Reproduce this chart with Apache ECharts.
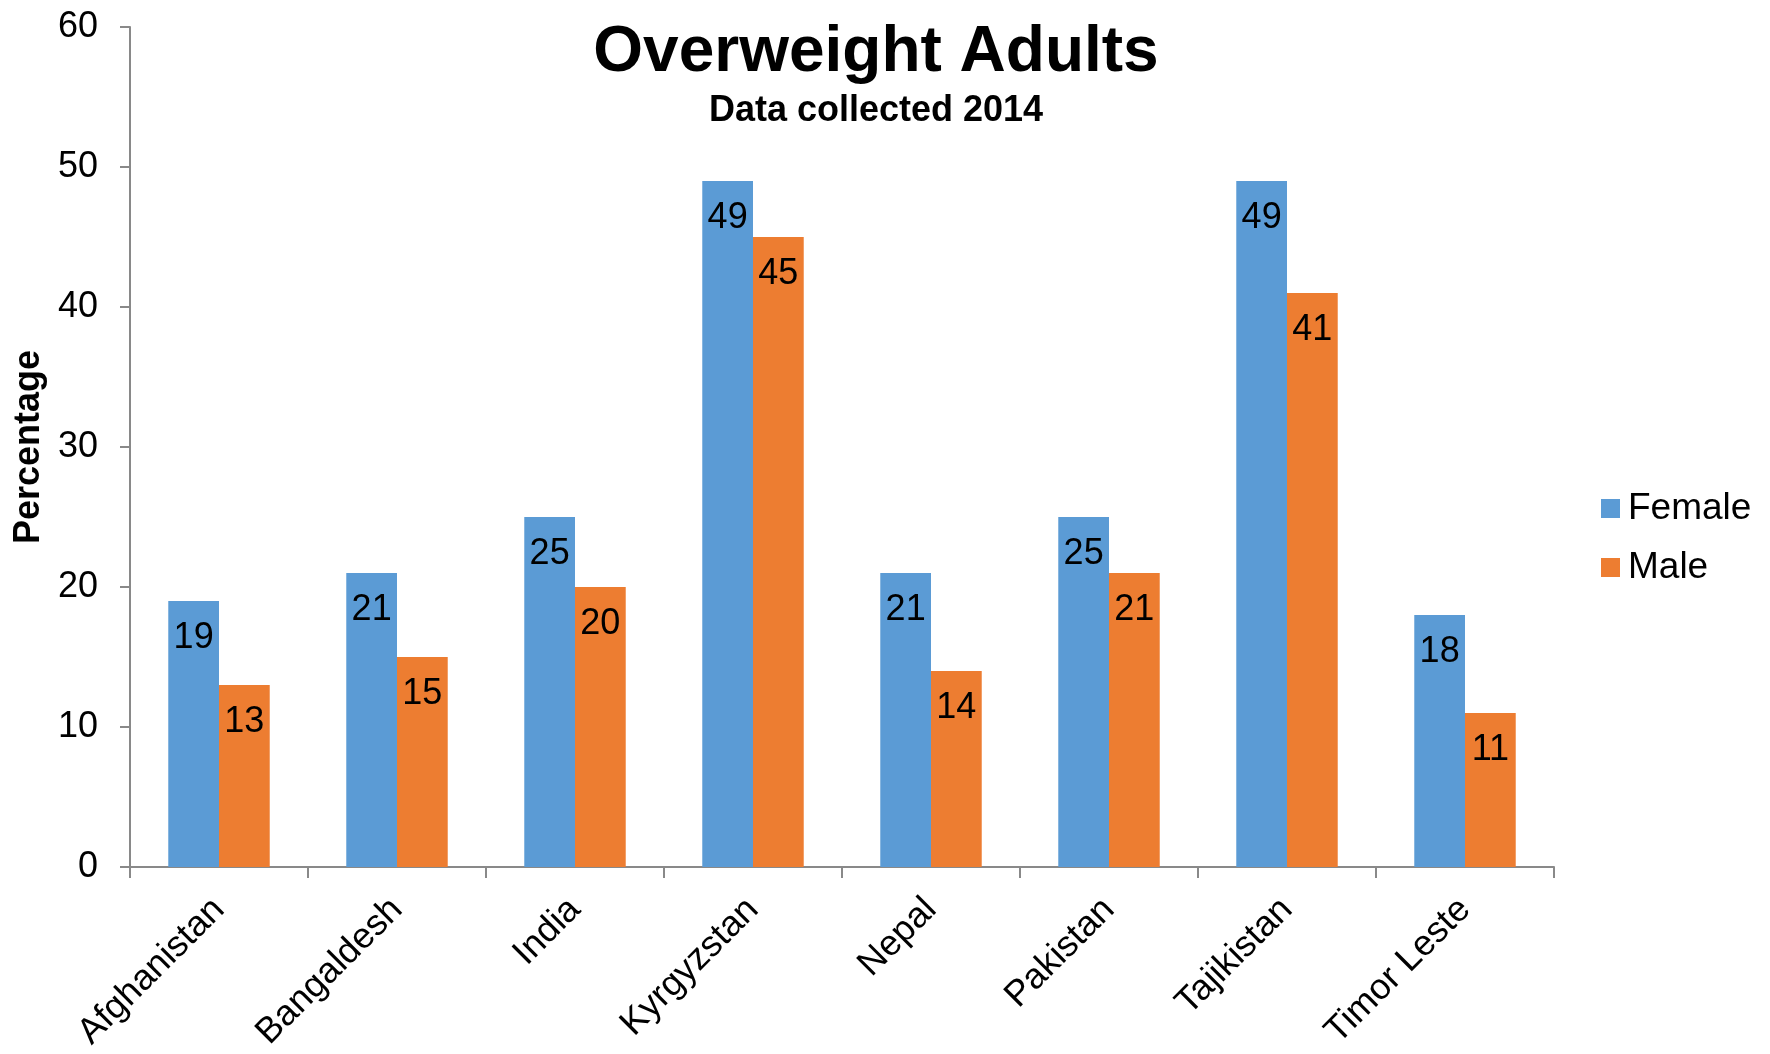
<!DOCTYPE html>
<html>
<head>
<meta charset="utf-8">
<script src="https://cdn.jsdelivr.net/npm/echarts@6/dist/echarts.min.js"></script>
<style>
html,body{margin:0;padding:0;background:#fff;}
#chart{width:1770px;height:1054px;}
</style>
</head>
<body>
<div id="chart"></div>
<script>
const categories = ['Afghanistan','Bangaldesh','India','Kyrgyzstan','Nepal','Pakistan','Tajikistan','Timor Leste'];
const female = [19, 21, 25, 49, 21, 25, 49, 18];
const male = [13, 15, 20, 45, 14, 21, 41, 11];
const seriesNames = ['Female', 'Male'];
const titleText = 'Overweight Adults';
const subtitleText = 'Data collected 2014';
const yAxisName = 'Percentage';

const FONT = '"Liberation Sans", Arial, Helvetica, sans-serif';
const chart = echarts.init(document.getElementById('chart'), null, {renderer:'canvas'});
const labelCfg = {show:true, position:'insideTop', distance:19, color:'#000', fontSize:36, fontFamily:FONT};
chart.setOption({
  animation:false,
  backgroundColor:'#fff',
  graphic:[
    {type:'text', x:876, y:53, style:{text:titleText, font:'bold 64px '+FONT, fill:'#000', textAlign:'center', textVerticalAlign:'middle'}},
    {type:'text', x:876, y:111, style:{text:subtitleText, font:'bold 36px '+FONT, fill:'#000', textAlign:'center', textVerticalAlign:'middle'}}
  ],
  grid:{left:130, right:216, top:27, bottom:187, containLabel:false, outerBoundsMode:'none'},
  legend:{
    orient:'vertical', left:1601, top:490, padding:0, itemWidth:19, itemHeight:19, itemGap:22,
    icon:'rect', textStyle:{fontSize:37, fontFamily:FONT, color:'#000', padding:[0,0,0,3]},
    data:seriesNames
  },
  xAxis:{
    type:'category', data:categories,
    axisLine:{lineStyle:{color:'#898989', width:2}},
    axisTick:{show:true, length:11, lineStyle:{color:'#898989', width:2}},
    axisLabel:{rotate:45, fontSize:36, fontFamily:FONT, color:'#000', margin:37, interval:0}
  },
  yAxis:{
    type:'value', min:0, max:60, interval:10,
    name:yAxisName, nameLocation:'middle', nameGap:82,
    nameTextStyle:{fontSize:36, fontWeight:'bold', fontFamily:FONT, color:'#000'},
    axisLine:{show:true, lineStyle:{color:'#898989', width:2}},
    axisTick:{show:true, length:10, lineStyle:{color:'#898989', width:2}},
    axisLabel:{fontSize:36, fontFamily:FONT, color:'#000', margin:32},
    splitLine:{show:false}
  },
  series:[
    {name:seriesNames[0], type:'bar', data:female, barGap:'0%', barCategoryGap:'43%', itemStyle:{color:'#5B9BD5'}, label:labelCfg},
    {name:seriesNames[1], type:'bar', data:male, barGap:'0%', barCategoryGap:'43%', itemStyle:{color:'#ED7D31'}, label:labelCfg}
  ]
});
</script>
</body>
</html>
